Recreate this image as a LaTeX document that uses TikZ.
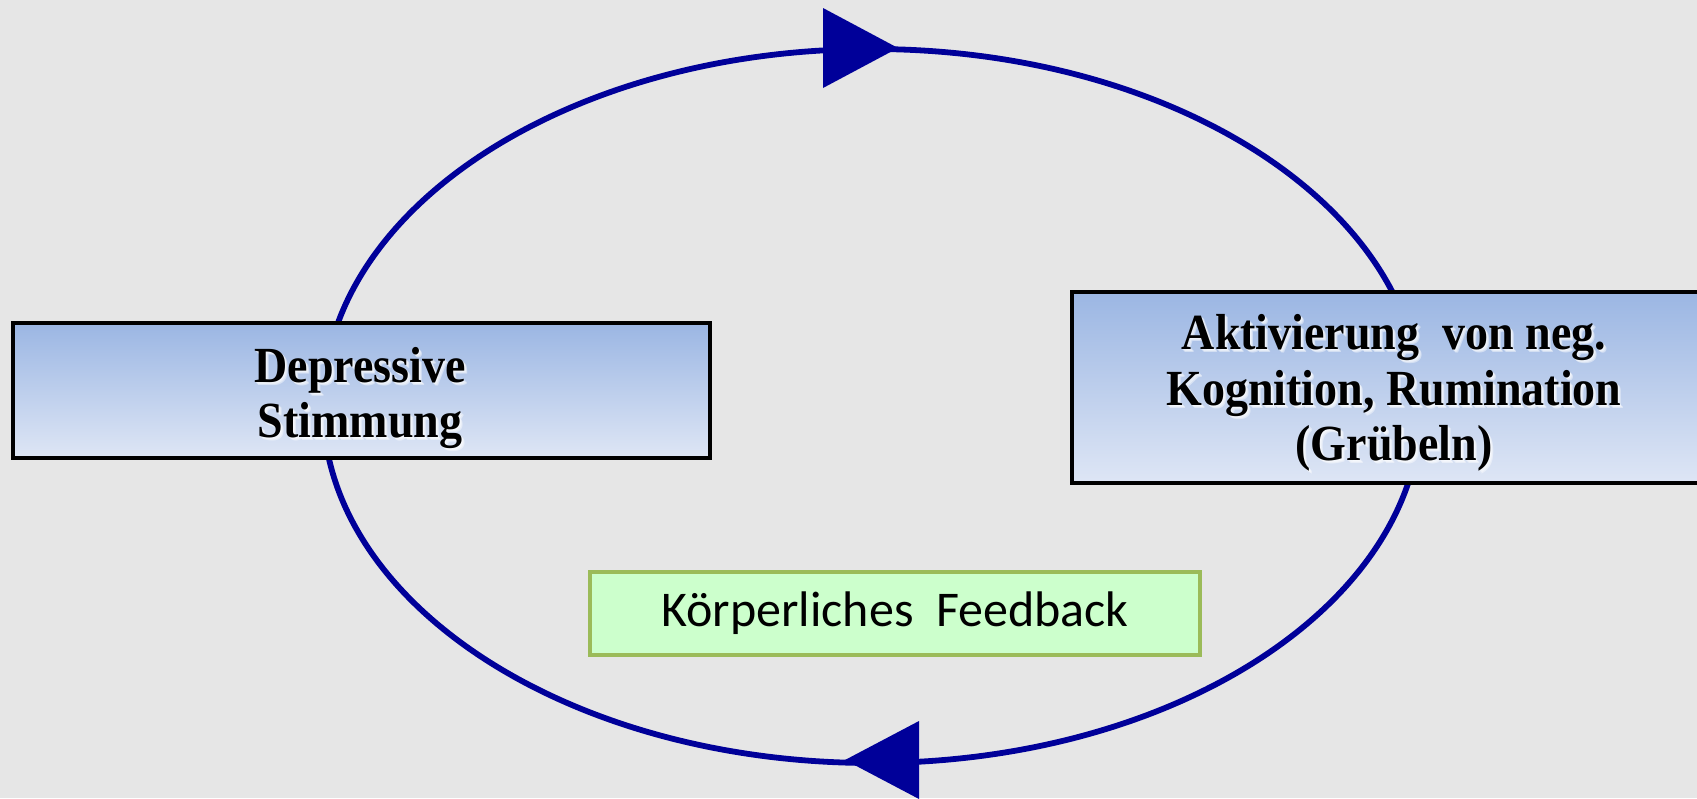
\documentclass[tikz,border=0pt]{standalone}
\usepackage{fontspec}
\setmainfont{Liberation Serif}
\newfontfamily\feedfont{Carlito}
\definecolor{bg}{RGB}{230,230,230}
\definecolor{loopblue}{RGB}{0,0,153}
\definecolor{boxtop}{RGB}{155,182,227}
\definecolor{boxbot}{RGB}{222,230,245}
\definecolor{feedfill}{RGB}{204,255,204}
\definecolor{feededge}{RGB}{155,187,89}
\begin{document}
\begin{tikzpicture}[x=0.5pt,y=-0.5pt,
  stimmbox/.style={draw=black, line width=1.6pt, top color=boxtop, bottom color=boxbot, inner sep=0pt},
  boldtext/.style={font=\fontsize{23}{25.3}\selectfont\bfseries, align=center, text=black,
    inner sep=0pt, yscale=1.1, transform shape},
  glowtext/.style={boldtext, text=white, opacity=0.45},
  feedbox/.style={draw=feededge, fill=feedfill, line width=1.8pt, minimum width=305pt, minimum height=41.5pt,
    inner sep=0pt, font=\feedfont\fontsize{25}{30}\selectfont},
  loopline/.style={draw=loopblue, line width=2.9pt},
  looptip/.style={fill=loopblue}
]
\useasboundingbox (0,0) rectangle (1697,798);
\fill[bg] (0,0) rectangle (1697,798);
\clip (0,0) rectangle (1697,798);

% feedback loop with its two direction markers
\path[loopline] (872,406) ellipse [x radius=549, y radius=357];
\fill[looptip] (898,48) -- (823,8) -- (823,88) -- cycle;
\fill[looptip] (845,760) -- (919,721) -- (919,799) -- cycle;

% the two states on the loop
\node[stimmbox, minimum width=348.5pt, minimum height=67.5pt] (stimmung) at (361.5,390.5) {};
\node[stimmbox, minimum width=323pt, minimum height=95.5pt] (kognition) at (1395,387.5) {};

% labels with a soft white halo
\foreach \d in {1,2,3}{
  \node[glowtext] at (360+\d,398+\d) {Depressive\\Stimmung};
  \node[glowtext] at (1394+\d,393+\d) {Aktivierung\ \ von neg.\\Kognition, Rumination\\(Grübeln)};
}
\node[boldtext] (stimmungtext) at (360,398) {Depressive\\Stimmung};
\node[boldtext] (kognitiontext) at (1394,393) {Aktivierung\ \ von neg.\\Kognition, Rumination\\(Grübeln)};

% bodily feedback
\node[feedbox] (feedback) at (895,613.5) {Körperliches\ \ Feedback};
\end{tikzpicture}
\end{document}
